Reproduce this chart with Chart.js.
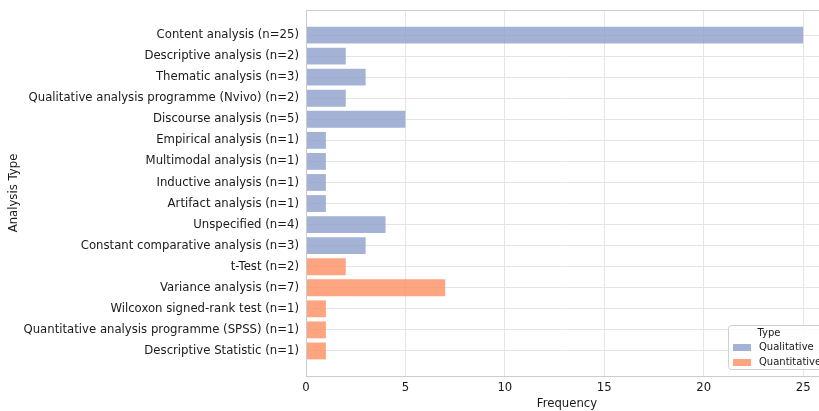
<!DOCTYPE html>
<html><head><meta charset="utf-8">
<script src="https://cdn.jsdelivr.net/npm/chart.js@4/dist/chart.umd.min.js"></script>
<style>html,body{margin:0;padding:0;overflow:hidden;background:#fff}#wrap{width:840px;height:411px}</style>
</head><body><div id="wrap"><canvas id="c" width="840" height="411"></canvas></div>
<script>
const categories = [
  "Content analysis (n=25)",
  "Descriptive analysis (n=2)",
  "Thematic analysis (n=3)",
  "Qualitative analysis programme (Nvivo) (n=2)",
  "Discourse analysis (n=5)",
  "Empirical analysis (n=1)",
  "Multimodal analysis (n=1)",
  "Inductive analysis (n=1)",
  "Artifact analysis (n=1)",
  "Unspecified (n=4)",
  "Constant comparative analysis (n=3)",
  "t-Test (n=2)",
  "Variance analysis (n=7)",
  "Wilcoxon signed-rank test (n=1)",
  "Quantitative analysis programme (SPSS) (n=1)",
  "Descriptive Statistic (n=1)"
];
const frequencies = [25, 2, 3, 2, 5, 1, 1, 1, 1, 4, 3, 2, 7, 1, 1, 1];
const types = ["Qualitative","Qualitative","Qualitative","Qualitative","Qualitative","Qualitative","Qualitative","Qualitative","Qualitative","Qualitative","Qualitative",
  "Quantitative","Quantitative","Quantitative","Quantitative","Quantitative"];
const typeNames = ["Qualitative", "Quantitative"];
const typeColors = ["rgba(141,160,203,0.8)", "rgba(252,141,98,0.8)"];
const xTicks = [0, 5, 10, 15, 20, 25];

Chart.defaults.font.family = "'DejaVu Sans', sans-serif";
Chart.defaults.color = "#1a1a1a";

const datasets = typeNames.map((t, k) => ({
  label: t,
  data: categories.map((c, i) => types[i] === t ? {x: frequencies[i], y: i} : null).filter(Boolean),
  backgroundColor: typeColors[k],
  borderWidth: 0,
  barPercentage: 0.8,
  categoryPercentage: 1.0,
  grouped: false
}));

const framePlugin = {
  id: 'frame',
  afterDatasetsDraw(chart) {
    const a = chart.chartArea, ctx = chart.ctx;
    ctx.save();
    ctx.strokeStyle = '#cccccc';
    ctx.lineWidth = 1;
    ctx.strokeRect(Math.round(a.left) + 0.5, Math.round(a.top) + 0.5, Math.round(a.right - a.left), Math.round(a.bottom - a.top));
    ctx.restore();
  }
};

const legendPlugin = {
  id: 'customLegend',
  afterDraw(chart) {
    const ctx = chart.ctx;
    const x0 = 728, y0 = 325, w = 110, h = 44;
    ctx.save();
    ctx.fillStyle = 'rgba(255,255,255,0.85)';
    ctx.strokeStyle = '#d0d0d0';
    ctx.lineWidth = 1;
    ctx.beginPath();
    ctx.roundRect(x0 + 0.5, y0 + 0.5, w, h, 3);
    ctx.fill(); ctx.stroke();
    ctx.font = "10px 'DejaVu Sans'";
    ctx.fillStyle = '#1a1a1a';
    ctx.textBaseline = 'middle';
    ctx.textAlign = 'center';
    ctx.fillText('Type', 769, 333);
    ctx.textAlign = 'left';
    typeNames.forEach((t, k) => {
      const yy = 347 + k * 15;
      ctx.fillStyle = typeColors[k];
      ctx.fillRect(733, yy - 3, 18, 7);
      ctx.fillStyle = '#1a1a1a';
      ctx.fillText(t, 759, yy);
    });
    ctx.restore();
  }
};

new Chart(document.getElementById('c'), {
  type: 'bar',
  data: { datasets },
  plugins: [framePlugin, legendPlugin],
  options: {
    responsive: false,
    animation: false,
    indexAxis: 'y',
    layout: { padding: { top: 10, right: 12, left: 0, bottom: 0 } },
    plugins: { legend: { display: false }, tooltip: { enabled: false } },
    scales: {
      x: {
        type: 'linear',
        min: 0, max: 26.25,
        afterBuildTicks(s) { s.ticks = xTicks.map(v => ({value: v})); },
        afterFit(s) { s.height = 35; },
        grid: { color: '#e5e5e5', drawTicks: false },
        border: { color: '#cccccc' },
        ticks: { padding: 5, font: { size: 11.7 }, color: '#1a1a1a' },
        title: { display: true, text: 'Frequency', font: { size: 11.7 }, color: '#1a1a1a', padding: { top: 0, bottom: 0 } }
      },
      y: {
        type: 'linear',
        reverse: true,
        offset: false,
        min: -1.19, max: 16.19,
        afterBuildTicks(s) { s.ticks = categories.map((c, i) => ({value: i})); },
        afterFit(s) { s.width = 306; s.paddingTop = 0; s.paddingBottom = 0; },
        grid: { color: '#e5e5e5', drawTicks: false, offset: false },
        border: { color: '#cccccc' },
        ticks: { padding: 7, font: { size: 11.7 }, color: '#1a1a1a', callback: (v) => categories[v] },
        title: { display: true, text: 'Analysis Type', font: { size: 11.7 }, color: '#1a1a1a', padding: { top: 7, bottom: 0 } }
      }
    }
  }
});
</script></body></html>
